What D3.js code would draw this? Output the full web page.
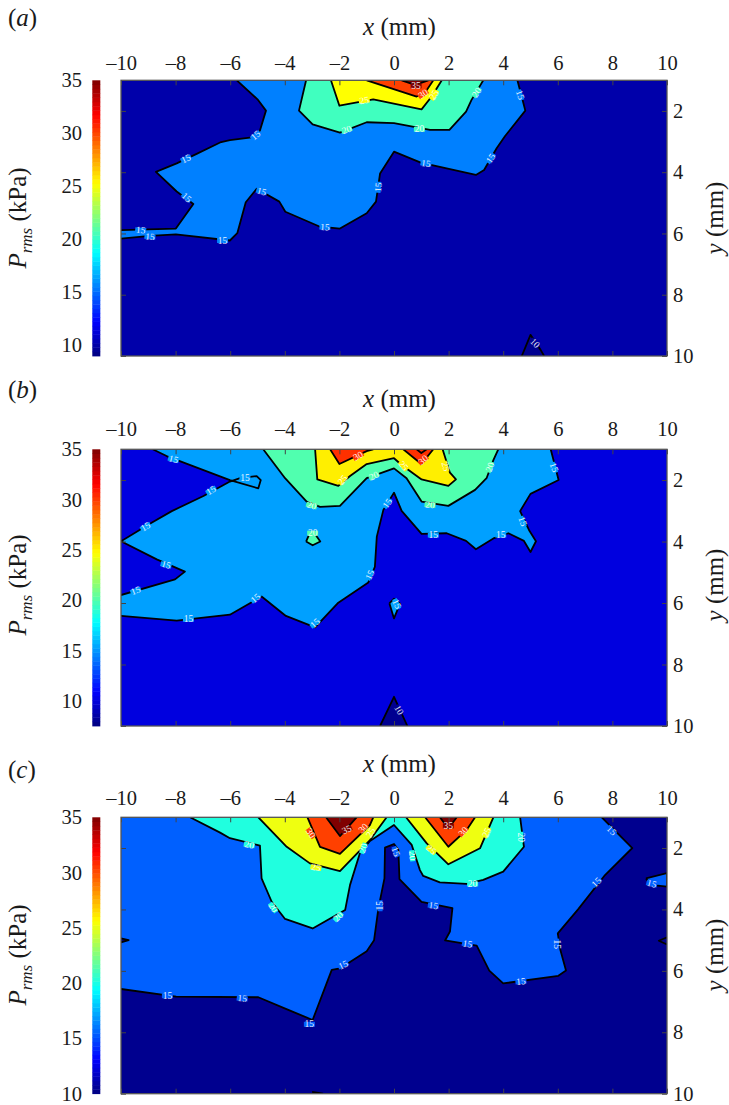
<!DOCTYPE html>
<html>
  <head>
    <meta charset="utf-8">
    <title>Pressure fluctuation contours</title>
    <script src="https://cdn.jsdelivr.net/npm/d3@7"></script>
    <style>
      body { margin: 0; background: #fff; }
      svg { display: block; }
      svg text { font-family: "Liberation Serif", serif; }
      .frame { fill: none; stroke: #555; stroke-width: 1.3; }
      .tick line { stroke: #444; stroke-width: 1; }
      .tick text { fill: #1a1a1a; font-size: 20.5px; }
      .axis-title { fill: #1a1a1a; font-size: 25px; }
      .contour { fill: none; stroke: #000; stroke-width: 1.8; stroke-linejoin: round; }
      .clabel { fill: #fff; font-size: 9.5px; text-anchor: middle; dominant-baseline: central; opacity: 0.9; }
    </style>
  </head>

  <body>
    <svg id="chart" width="729" height="1105"></svg>

    <script>
      // axis ticks
      const xTicks = [-10, -8, -6, -4, -2, 0, 2, 4, 6, 8, 10];
      const yTicks = [2, 4, 6, 8, 10];
      const barTicks = [10, 15, 20, 25, 30, 35];

      // contour levels, each line is [x mm, y mm] vertices
      const a10 = [[[4.68, 10], [5.0, 9.31], [5.37, 9.8], [5.5, 10]]];
      const a15 = [
        [[-5.76, 1], [-5.0, 1.62], [-4.69, 1.99], [-4.91, 2.64], [-5.21, 2.86], [-6.01, 2.95], [-6.37, 3.03], [-7.23, 3.4], [-7.96, 3.71], [-8.72, 3.99], [-7.96, 4.63], [-7.35, 5.04], [-7.99, 5.84], [-10, 5.89]],
        [[-10, 6.17], [-8.94, 6.08], [-7.99, 6.03], [-6.01, 6.23], [-5.74, 5.99], [-5.43, 4.98], [-5.03, 4.54], [-4.2, 4.96], [-3.98, 5.29], [-2.71, 5.78], [-1.98, 5.84], [-1, 5.34], [-0.66, 4.96], [-0.51, 4.04], [0, 3.33], [0.98, 3.69], [3, 4.09], [3.3, 3.93], [3.76, 3.22], [4.07, 2.82], [4.81, 1.99], [4.71, 1.64], [4.52, 1]]
      ];
      const a20 = [[[-3.22, 1], [-3.48, 1.99], [-2.98, 2.44], [-1.98, 2.71], [-1, 2.37], [0, 2.4], [0.68, 2.51], [1.32, 2.62], [2.03, 2.62], [2.64, 2.02], [2.84, 1.64], [3.27, 1]]];
      const a25 = [[[-2.31, 1], [-2, 1.83], [-0.76, 1.62], [1.01, 1.95], [1.38, 1.53], [1.75, 1]]];
      const a30 = [[[-1, 1], [0.83, 1.53], [1.14, 1.4], [1.44, 1]]];
      const a35 = [[[0.28, 1], [0.77, 1.15], [1.26, 1]]];

      const b10 = [[[-0.51, 10], [0, 9.05], [0.49, 10]]];
      const b15 = [
        [[-8.84, 1], [-8.33, 1.22], [-6.01, 2], [-4.97, 2.27], [-4.88, 2], [-5.03, 1.87], [-5.64, 1.94], [-6.01, 2.05], [-6.98, 2.52], [-8.14, 3.01], [-8.88, 3.39], [-10, 3.99], [-8.69, 4.58], [-7.66, 4.98], [-8.02, 5.23], [-10, 5.74]],
        [[-10, 6.42], [-7.96, 6.57], [-6.01, 6.38], [-4.85, 5.79], [-3.96, 6.42], [-2.89, 6.79], [-2.04, 5.99], [-0.94, 5.33], [-0.7, 4.82], [-0.63, 3.84], [-0.39, 2.97], [0, 2.41], [0.28, 3], [1.01, 3.75], [1.93, 3.73], [2.64, 3.98], [3, 4.25], [3.64, 3.9], [4.19, 3.73], [4.76, 3.98], [5, 4.34], [5.2, 3.99], [4.96, 3.65], [4.62, 3.01], [5, 2.45], [6.03, 2], [5.74, 1]]
      ];
      const b15Island = [[[-0.17, 6.01], [0, 5.86], [0.22, 6.02], [0, 6.5], [-0.17, 6.01]]];
      const b20 = [[[-4.79, 1], [-3.99, 1.94], [-3.2, 2.7], [-2.71, 2.87], [-1.98, 2.84], [-1, 1.94], [0, 1.62], [0.46, 1.94], [1.01, 2.7], [1.99, 2.84], [2.97, 2.32], [3.39, 1.94], [3.64, 1.35], [3.82, 1]]];
      const b20Island = [[[-3.22, 4], [-3.1, 3.75], [-2.9, 3.75], [-2.7, 4], [-2.98, 4.12], [-3.22, 4]]];
      const b25 = [[[-2.89, 1], [-2.81, 1.98], [-2.04, 2.19], [-1.61, 1.87], [-1, 1.48], [0, 1.29], [0.28, 1.51], [1.01, 1.98], [1.99, 2.19], [2.27, 1.98], [2.05, 1.76], [1.78, 1]]];
      const b30Left = [[[-2.34, 1], [-2, 1.48], [-1, 1.06], [-0.76, 1]]];
      const b30Right = [[[0.34, 1], [1, 1.48], [1.44, 1]]];
      const b35 = [[[0.83, 1], [1, 1.12], [1.2, 1]]];

      const c15 = [
        [[-10, 1]],
        [[-10, 6.59], [-7.98, 6.84], [-4.97, 6.86], [-3.96, 7.24], [-2.98, 7.6], [-2.28, 5.97], [-1.98, 5.92], [-1, 5.36], [-0.73, 5], [-0.57, 3.96], [-0.35, 2.99], [-0.33, 1.99], [0, 1.87], [0.16, 2.06], [0.2, 3.01], [1.01, 3.75], [2.14, 3.96], [2.05, 4.72], [1.87, 5.01], [3.03, 5.18], [3.49, 5.99], [4, 6.41], [6.02, 6.16], [6.3, 5.99], [6.08, 5.27], [6, 4.78], [6.75, 3.99], [7.73, 2.88], [8.73, 2], [7.61, 1]]
      ];
      const c15Edge = [[[9.23, 2.99], [10, 2.82], [10, 3.26], [9.4, 3.2], [9.23, 2.99]]];
      const c10Left = [[[-10, 4.94], [-9.72, 5], [-10, 5.07]]];
      const c10Right = [[[10, 4.91], [9.7, 5.02], [10, 5.14]]];
      const c10Bottom = [[[-3, 9.94], [-2.6, 10]]];
      const c20 = [[[-7.47, 1], [-6.37, 1.5], [-6.01, 1.68], [-4.91, 1.92], [-4.85, 2.99], [-4.48, 3.75], [-3.99, 4.31], [-2.98, 4.62], [-1.79, 4.02], [-1.61, 3.2], [-1.25, 2.17], [-0.88, 1.77], [0, 1.25], [0.65, 1.9], [0.95, 2.72], [1.07, 2.91], [1.68, 3.12], [2.66, 3.17], [3.27, 3.04], [4, 2.77], [4.76, 1.96], [4.62, 1]]];
      const c25Left = [[[-4.97, 1], [-3.93, 1.96], [-3.08, 2.5], [-1.98, 2.75], [-0.88, 1.74], [-0.27, 1]]];
      const c25Right = [[[0.44, 1], [1.2, 1.85], [1.99, 2.53], [3.15, 2.01], [3.64, 1]]];
      const c30Left = [[[-3.17, 1], [-2.71, 1.96], [-1.98, 2.19], [-0.88, 1.25], [-0.76, 1]]];
      const c30Right = [[[1.14, 1], [1.99, 1.96], [2.66, 1.41], [2.97, 1]]];
      const c35Left = [[[-2.49, 1], [-1.98, 1.61], [-1.37, 1]]];
      const c35Right = [[[1.68, 1], [1.99, 1.36], [2.3, 1]]];

      // inline contour labels: [x mm, y mm, level, angle]
      const aLabels = [
        [-9.28, 5.89, 15, 5], [-8.94, 6.11, 15, 5], [-6.28, 6.23, 15, 0], [-2.53, 5.8, 15, 3], [-4.85, 4.63, 15, 15],
        [-7.6, 4.83, 15, 40], [-7.62, 3.56, 15, -25], [-5.07, 2.8, 15, -40], [-0.57, 4.49, 15, -85], [1.17, 3.72, 15, 8],
        [3.55, 3.55, 15, -55], [4.62, 1.48, 15, 70], [-1.73, 2.62, 20, -20], [0.93, 2.6, 20, 0], [3.03, 1.4, 20, -55],
        [-1.09, 1.66, 25, -8], [1.47, 1.48, 25, -60], [1.07, 1.45, 30, -35], [0.81, 1.18, 35, 0], [5.16, 9.58, 10, 45]
      ];
      const bLabels = [
        [-8.08, 1.33, 15, 15], [-5.46, 1.94, 15, 0], [-6.7, 2.34, 15, -30], [-9.1, 3.52, 15, -30], [-8.35, 4.76, 15, 15],
        [-9.46, 5.6, 15, -20], [-7.53, 6.53, 15, 0], [-5.07, 5.85, 15, -40], [-2.89, 6.66, 15, -40], [-0.88, 5.09, 15, -65],
        [-0.24, 2.76, 15, -55], [1.44, 3.79, 15, 0], [3.91, 3.79, 15, 0], [4.71, 3.35, 15, 70], [5.86, 1.59, 15, 70],
        [0.1, 6.03, 15, 65], [-3.02, 2.83, 20, 15], [-0.73, 1.87, 20, -25], [1.32, 2.81, 20, 5], [3.52, 1.58, 20, -70],
        [-2.98, 3.73, 20, 0], [-1.88, 2, 25, -50], [0.34, 1.54, 25, 50], [1.89, 1.56, 25, 75], [-1.31, 1.22, 30, -30],
        [1.07, 1.35, 30, -40], [0.18, 9.48, 10, 60]
      ];
      const cLabels = [
        [-8.3, 6.81, 15, 0], [-5.56, 6.9, 15, 5], [-3.1, 7.74, 15, 0], [-1.86, 5.81, 15, -25], [-0.51, 3.88, 15, -90],
        [0.06, 2.12, 15, 70], [1.44, 3.88, 15, 8], [2.69, 5.13, 15, 10], [5.96, 5.13, 15, 90], [4.65, 6.35, 15, -5],
        [7.42, 3.12, 15, -45], [7.97, 1.43, 15, 45], [9.44, 3.17, 15, 15], [-5.3, 1.9, 20, 10], [-4.43, 3.94, 20, 55],
        [-2.04, 4.24, 20, -45], [0.67, 2.25, 20, 85], [-1.12, 2.01, 20, -70], [2.88, 3.17, 20, 0], [4.64, 1.65, 20, 90],
        [-2.86, 2.64, 25, 10], [1.36, 2.06, 25, 40], [3.4, 1.5, 25, -65], [-0.85, 1.5, 25, -60], [-3.05, 1.52, 30, 55],
        [-1.12, 1.36, 30, -45], [2.54, 1.47, 30, -50], [-1.73, 1.41, 35, -25], [1.99, 1.28, 35, 0]
      ];

      // panel layout and fill of each contour band
      const panels = [
        {
          letter: "a", top: 80.3, bottom: 356, barMin: 9, letterY: 26, titleY: 35, tickY: 70, middle: 218,
          colours: { 5: "#000090", 10: "#0000aa", 15: "#0080ff", 20: "#40ffbf", 25: "#ffff00", 30: "#ff4000", 35: "#800000" },
          base: 10,
          regions: [[5, a10], [15, a15], [20, a20], [25, a25], [30, a30], [35, a35]],
          labels: aLabels
        },
        {
          letter: "b", top: 449.3, bottom: 726, barMin: 7.5, letterY: 398, titleY: 407, tickY: 436, middle: 585,
          colours: { 5: "#000090", 10: "#0000df", 15: "#00a0ff", 20: "#50ffaf", 25: "#ffef00", 30: "#ff3000", 35: "#ff3000" },
          base: 10,
          regions: [[5, b10], [15, b15], [15, b15Island], [20, b20], [20, b20Island], [25, b25], [30, b30Left], [30, b30Right], [35, b35]],
          labels: bLabels
        },
        {
          letter: "c", top: 817.3, bottom: 1093.7, barMin: 10, letterY: 778, titleY: 772, tickY: 805, middle: 955,
          colours: { 10: "#00008f", 15: "#0060ff", 20: "#20ffdf", 25: "#efff10", 30: "#ff4000", 35: "#800000" },
          base: 10,
          regions: [[15, c15], [10, c10Left], [10, c10Right], [10, c10Bottom], [15, c15Edge], [20, c20], [25, c25Left], [25, c25Right], [30, c30Left], [30, c30Right], [35, c35Left], [35, c35Right]],
          labels: cLabels
        }
      ];

      const jet = d3.scaleLinear()
        .domain([0, 0.125, 0.375, 0.625, 0.875, 1])
        .range(["#00007f", "#0000ff", "#00ffff", "#ffff00", "#ff0000", "#7f0000"]);
      const dash = d => d < 0 ? "\u2013" + Math.abs(d) : d;

      const svg = d3.select("#chart");
      const plotLeft = 121;
      const plotRight = 667;
      const x = d3.scaleLinear().domain([-10, 10]).range([plotLeft, plotRight]);

      panels.forEach(function(p) {
        const y = d3.scaleLinear().domain([1, 10]).range([p.top, p.bottom]);
        const line = d3.line().x(d => x(d[0])).y(d => y(d[1]));
        const g = svg.append("g");
        const clipId = "clip-" + p.letter;

        g.append("clipPath").attr("id", clipId)
          .append("rect")
          .attr("x", x(-10))
          .attr("y", y(1))
          .attr("width", x(10) - x(-10))
          .attr("height", y(10) - y(1));

        const plot = g.append("g").attr("clip-path", "url(#" + clipId + ")");
        plot.append("rect")
          .attr("x", x(-10))
          .attr("y", y(1))
          .attr("width", x(10) - x(-10))
          .attr("height", y(10) - y(1))
          .attr("fill", p.colours[p.base]);

        // filled bands, then their contour lines
        p.regions.forEach(function(region) {
          plot.append("path")
            .attr("d", line(region[1].flat()) + "Z")
            .attr("fill", p.colours[region[0]]);
          plot.selectAll(null)
            .data(region[1].filter(d => d.length > 1))
            .enter().append("path")
            .attr("class", "contour")
            .attr("d", line);
        });

        // labels break the line they sit on
        const labels = plot.selectAll(".label")
          .data(p.labels)
          .enter().append("g")
          .attr("transform", d => "translate(" + x(d[0]) + "," + y(d[1]) + ") rotate(" + d[3] + ")");
        labels.append("rect")
          .attr("x", -5.5)
          .attr("y", -2.5)
          .attr("width", 11)
          .attr("height", 5)
          .attr("fill", d => p.colours[d[2] === 10 ? 5 : d[2]] || p.colours[d[2]]);
        labels.append("text")
          .attr("class", "clabel")
          .text(d => d[2]);

        // axes, all ticks point into the plot
        const inner = -5;
        g.append("g").attr("transform", "translate(0," + y(1) + ")")
          .call(d3.axisTop(x).tickValues(xTicks).tickSize(inner).tickPadding(y(1) - p.tickY).tickFormat(dash))
          .call(a => a.select(".domain").remove())
          .call(a => a.selectAll("text").attr("dy", 0));
        g.append("g").attr("transform", "translate(0," + y(10) + ")")
          .call(d3.axisBottom(x).tickValues(xTicks).tickSize(inner).tickFormat(""))
          .call(a => a.select(".domain").remove());
        g.append("g").attr("transform", "translate(" + x(-10) + ",0)")
          .call(d3.axisLeft(y).tickValues(yTicks).tickSize(inner).tickFormat(""))
          .call(a => a.select(".domain").remove());
        g.append("g").attr("transform", "translate(" + x(10) + ",0)")
          .call(d3.axisRight(y).tickValues(yTicks).tickSize(inner).tickPadding(6))
          .call(a => a.select(".domain").remove());
        g.append("rect")
          .attr("class", "frame")
          .attr("x", x(-10))
          .attr("y", y(1))
          .attr("width", x(10) - x(-10))
          .attr("height", y(10) - y(1));

        // colour bar
        const barY = d3.scaleLinear().domain([p.barMin, 35]).range([p.bottom, p.top]);
        const steps = d3.range(64);
        g.selectAll(".step")
          .data(steps)
          .enter().append("rect")
          .attr("x", 92.3)
          .attr("width", 8)
          .attr("y", d => barY(p.barMin + (d + 1) / 64 * (35 - p.barMin)))
          .attr("height", (p.bottom - p.top) / 64 + 0.4)
          .attr("fill", d => jet((d + 0.5) / 64));
        g.append("g").attr("transform", "translate(88,0)")
          .call(d3.axisLeft(barY).tickValues(barTicks).tickSize(0).tickPadding(6))
          .call(a => a.select(".domain").remove());

        // titles
        g.append("text").attr("class", "axis-title")
          .attr("x", 8).attr("y", p.letterY)
          .html('(<tspan font-style="italic">' + p.letter + "</tspan>)");
        g.append("text").attr("class", "axis-title")
          .attr("x", 399.5).attr("y", p.titleY).attr("text-anchor", "middle")
          .html('<tspan font-style="italic">x</tspan> (mm)');
        g.append("text").attr("class", "axis-title")
          .attr("transform", "translate(26," + p.middle + ") rotate(-90)")
          .attr("text-anchor", "middle")
          .html('<tspan font-style="italic">P</tspan><tspan font-style="italic" font-size="17" dy="6">rms</tspan><tspan dy="-6"> (kPa)</tspan>');
        g.append("text").attr("class", "axis-title")
          .attr("transform", "translate(723," + p.middle + ") rotate(-90)")
          .attr("text-anchor", "middle")
          .html('<tspan font-style="italic">y</tspan> (mm)');
      });
    </script>
  </body>
</html>
